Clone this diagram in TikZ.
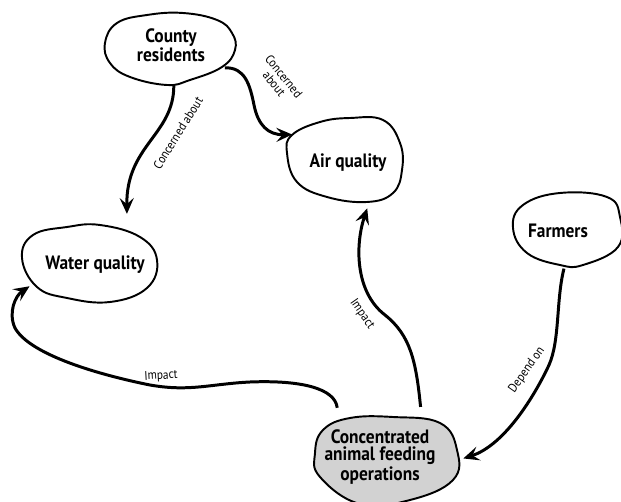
\documentclass[tikz,border=0pt]{standalone}
\usepackage{fontspec}
\newfontfamily\handfont{PT Sans}[FakeStretch=0.9]
\usetikzlibrary{shapes.geometric, arrows.meta}

\tikzset{
  blob/.style={draw=black, line width=1.1pt, fill=white},
  idea/.style={ellipse, inner sep=0pt, font=\handfont\bfseries\fontsize{11}{10}\selectfont, align=center},
  link/.style={line width=1.7pt, -{Stealth[length=9pt, width=8pt, inset=3.5pt]}},
  linklabel/.style={font=\handfont\fontsize{7.2}{7}\selectfont, align=center, inner sep=1pt}
}

\begin{document}
\begin{tikzpicture}[x=0.02cm, y=-0.02cm]
  \useasboundingbox (0,0) rectangle (621,502);

  % Blob outlines
  \draw[blob] plot[smooth cycle, tension=0.7] coordinates
     {(105,43) (117,23) (147,15) (183,13) (217,20) (232,33) (235,50) (222,67) (190,80) (167,85) (130,77) (110,63)};
  \draw[blob] plot[smooth cycle, tension=0.7] coordinates
     {(287,153) (292,135) (320,122) (350,118) (383,120) (400,143) (402,170) (393,193) (367,202) (327,197) (297,182)};
  \draw[blob] plot[smooth cycle, tension=0.7] coordinates
     {(22,258) (33,235) (67,227) (100,225) (140,237) (157,260) (147,288) (110,302) (67,298) (37,287)};
  \draw[blob] plot[smooth cycle, tension=0.7] coordinates
     {(513,228) (523,205) (560,193) (607,197) (620,217) (618,247) (583,265) (560,265) (527,253)};
  \draw[blob, fill=gray!35] plot[smooth cycle, tension=0.7] coordinates
     {(315,453) (323,430) (350,418) (393,417) (440,423) (457,450) (453,480) (410,500) (360,504) (320,477)};

  % Concepts
  \node[idea, minimum width=2.6cm, minimum height=1.6cm] (county) at (171,45) {County\\residents};
  \node[idea, minimum width=2.79cm, minimum height=1.87cm] (air) at (348,163) {Air quality};
  \node[idea, minimum width=2.56cm, minimum height=2.28cm] (water) at (95,265) {Water quality};
  \node[idea, minimum width=2.2cm, minimum height=1.5cm] (farmers) at (558,231) {Farmers};
  \node[idea, minimum width=3.32cm, minimum height=2.28cm] (cafo) at (380,457) {Concentrated\\animal feeding\\operations};

  % Links
  \draw[link] (county.-86) .. controls (174,135) and (126,145) .. (water.58);
  \draw[link] (county.-23.5) .. controls (245,67) and (250,85) .. (254,105)
     .. controls (258,125) and (268,135) .. (air.153.4);
  \draw[link] (cafo.51.3) .. controls (416,360) and (410,335) .. (385,315)
     .. controls (355,292) and (355,245) .. (air.-67);
  \draw[link] (cafo.131.5) .. controls (335,388) and (300,380) .. (250,382)
     .. controls (210,384) and (190,392) .. (150,385)
     .. controls (100,375) and (30,355) .. (15,328)
     .. controls (8,313) and (15,296) .. (water.198.4);
  \draw[link] (farmers.-81) .. controls (556,300) and (560,340) .. (549,365)
     .. controls (535,395) and (505,445) .. (cafo.-1.4);

  % Link labels
  \node[linklabel, rotate=58] (aboutwater) at (178,133) {Concerned about};
  \node[linklabel, rotate=-51] (aboutair) at (279,80) {Concerned\\about};
  \node[linklabel, rotate=-55] (impactair) at (362,314) {Impact};
  \node[linklabel, rotate=3] (impactwater) at (161,376) {Impact};
  \node[linklabel, rotate=55] (dependon) at (527,370) {Depend on};
\end{tikzpicture}
\end{document}
